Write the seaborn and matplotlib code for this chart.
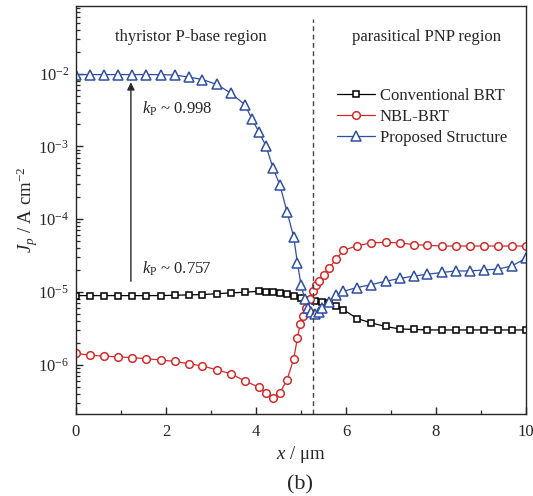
import matplotlib
matplotlib.use("Agg")
import matplotlib.pyplot as plt
import seaborn as sns
from matplotlib.ticker import MultipleLocator, AutoMinorLocator, LogLocator, NullFormatter

# Hole current density J_p along the cut line (x in µm)
x_conv = [0.0, 0.31, 0.63, 0.94, 1.25, 1.56, 1.88, 2.19, 2.50, 2.81, 3.13, 3.44, 3.75,
          4.06, 4.22, 4.38, 4.53, 4.69, 4.84, 5.00, 5.16, 5.31, 5.47, 5.63, 5.78, 5.94,
          6.25, 6.56, 6.88, 7.19, 7.50, 7.81, 8.13, 8.44, 8.75, 9.06, 9.38, 9.69, 10.0]
j_conv = [8.9e-6, 8.9e-6, 8.9e-6, 8.9e-6, 8.9e-6, 8.9e-6, 8.9e-6, 9.0e-6, 9.1e-6, 9.2e-6,
          9.45e-6, 9.7e-6, 9.9e-6, 1.02e-5, 1.01e-5, 1.0e-5, 9.7e-6, 9.4e-6, 8.8e-6, 8.3e-6,
          7.8e-6, 7.4e-6, 7.2e-6, 7.0e-6, 6.5e-6, 5.7e-6, 4.3e-6, 3.75e-6, 3.35e-6, 3.1e-6,
          3.05e-6, 3.0e-6, 3.0e-6, 3.0e-6, 3.0e-6, 3.0e-6, 3.0e-6, 3.0e-6, 3.0e-6]

x_nbl = [0.0, 0.31, 0.63, 0.94, 1.25, 1.56, 1.88, 2.19, 2.50, 2.81, 3.13, 3.44, 3.75,
         4.06, 4.22, 4.38, 4.53, 4.69, 4.84, 4.92, 4.98, 5.04, 5.11, 5.19, 5.27, 5.34,
         5.41, 5.50, 5.63, 5.78, 5.94, 6.25, 6.56, 6.88, 7.19, 7.50, 7.81, 8.13, 8.44,
         8.75, 9.06, 9.38, 9.69, 10.0]
j_nbl = [1.43e-6, 1.35e-6, 1.31e-6, 1.28e-6, 1.25e-6, 1.21e-6, 1.16e-6, 1.11e-6, 1.03e-6,
         9.6e-7, 8.5e-7, 7.5e-7, 6.0e-7, 4.9e-7, 4.1e-7, 3.5e-7, 4.1e-7, 6.2e-7, 1.21e-6,
         2.34e-6, 3.6e-6, 4.7e-6, 6.0e-6, 8.1e-6, 1.02e-5, 1.23e-5, 1.41e-5, 1.70e-5,
         2.14e-5, 2.82e-5, 3.72e-5, 4.32e-5, 4.72e-5, 4.81e-5, 4.72e-5, 4.47e-5, 4.37e-5,
         4.27e-5, 4.27e-5, 4.27e-5, 4.27e-5, 4.27e-5, 4.27e-5, 4.27e-5]

x_prop = [0.0, 0.31, 0.63, 0.94, 1.25, 1.56, 1.88, 2.19, 2.50, 2.81, 3.13, 3.44, 3.75,
          3.91, 4.06, 4.22, 4.38, 4.53, 4.69, 4.84, 4.92, 5.00, 5.08, 5.16, 5.23, 5.31,
          5.39, 5.47, 5.63, 5.78, 5.94, 6.25, 6.56, 6.88, 7.19, 7.50, 7.81, 8.13, 8.44,
          8.75, 9.06, 9.38, 9.69, 10.0]
j_prop = [9.7e-3, 9.7e-3, 9.7e-3, 9.7e-3, 9.7e-3, 9.7e-3, 9.7e-3, 9.55e-3, 9.0e-3, 8.3e-3,
          7.1e-3, 5.4e-3, 3.76e-3, 2.39e-3, 1.59e-3, 1.02e-3, 5.0e-4, 2.95e-4, 1.26e-4,
          5.6e-5, 2.5e-5, 1.26e-5, 8.1e-6, 6.0e-6, 5.25e-6, 5.0e-6, 5.25e-6, 6.0e-6, 7.2e-6,
          9.1e-6, 1.02e-5, 1.15e-5, 1.26e-5, 1.40e-5, 1.53e-5, 1.65e-5, 1.75e-5, 1.85e-5,
          1.94e-5, 1.94e-5, 2.0e-5, 2.06e-5, 2.28e-5, 2.91e-5]

series_names = ["Conventional BRT", "NBL-BRT", "Proposed Structure"]
series_colors = ["#000000", "#d42a2a", "#2e4ea2"]
series_markers = ["s", "o", "^"]
series_sizes = [5.0, 5.5, 6.5]

boundary_x = 5.27
kp_labels = [r"$k_{\mathrm{P}}$ ~ 0.998", r"$k_{\mathrm{P}}$ ~ 0.757"]

sns.set_style("ticks")
plt.rcParams["font.family"] = ["Liberation Serif", "DejaVu Serif"]
plt.rcParams["mathtext.fontset"] = "custom"
plt.rcParams["mathtext.rm"] = "Liberation Serif"
plt.rcParams["mathtext.it"] = "Liberation Serif:italic"
plt.rcParams["mathtext.bf"] = "Liberation Serif:bold"

fig = plt.figure(figsize=(5.33, 4.96), dpi=100)
ax = fig.add_axes([76 / 533, 1 - 414 / 496, 450 / 533, 408 / 496])

for xs, ys, name, col, mk, ms in zip([x_conv, x_nbl, x_prop], [j_conv, j_nbl, j_prop],
                                     series_names, series_colors, series_markers, series_sizes):
    sns.lineplot(x=xs, y=ys, ax=ax, color=col, marker=mk, markersize=ms,
                 markerfacecolor="white", markeredgecolor=col, markeredgewidth=1.1,
                 linewidth=0.9, estimator=None, sort=False, label=name)

ax.set_yscale("log")
ax.set_xlim(0, 10)
ax.set_ylim(2.1e-7, 8.5e-2)

ax.xaxis.set_major_locator(MultipleLocator(2))
ax.xaxis.set_minor_locator(AutoMinorLocator(2))
ax.yaxis.set_major_locator(LogLocator(base=10, numticks=20))
ax.yaxis.set_minor_locator(LogLocator(base=10, subs=range(2, 10), numticks=20))
ax.yaxis.set_minor_formatter(NullFormatter())

ax.tick_params(axis="both", which="major", direction="in", length=5, width=1.0,
               labelsize=12, top=False, right=False)
ax.tick_params(axis="both", which="minor", direction="in", length=3, width=0.9,
               top=False, right=False)
ax.tick_params(axis="x", which="major", pad=7)
ax.tick_params(axis="y", which="major", pad=5)
for sp in ax.spines.values():
    sp.set_linewidth(1.0)
    sp.set_visible(True)

ax.axvline(boundary_x, ymin=0, ymax=0.969, color="#444444", linestyle=(0, (3.5, 2.5)),
           linewidth=1.0)

ax.text(2.55, 3.17e-2, "thyristor P-base region", ha="center", va="center", fontsize=12)
ax.text(7.8, 3.17e-2, "parasitical PNP region", ha="center", va="center", fontsize=12)

ax.annotate("", xy=(1.22, 7.6e-3), xytext=(1.22, 1.4e-5),
            arrowprops=dict(arrowstyle="-|>", color="#2a2a2a", lw=1.0,
                            mutation_scale=11, shrinkA=0, shrinkB=0))
ax.text(1.47, 3.3e-3, kp_labels[0], ha="left", va="center", fontsize=12)
ax.text(1.47, 2.1e-5, kp_labels[1], ha="left", va="center", fontsize=12)

ax.set_xlabel(r"$x$ / μm", fontsize=13.5, labelpad=3)
ax.set_ylabel(r"$J_{p}$ / A cm$^{-2}$", fontsize=13.5)
ax.yaxis.set_label_coords(-36 / 450, 0.5)

leg = ax.legend(loc="upper left", bbox_to_anchor=(0.579, 0.80), frameon=False,
                fontsize=12, handlelength=2.3, handletextpad=0.3, labelspacing=0.3,
                borderpad=0, borderaxespad=0)

fig.text(300 / 533, 1 - 484.6 / 496, "(b)", ha="center", va="center", fontsize=16)

fig.savefig("out.png", dpi=100)
